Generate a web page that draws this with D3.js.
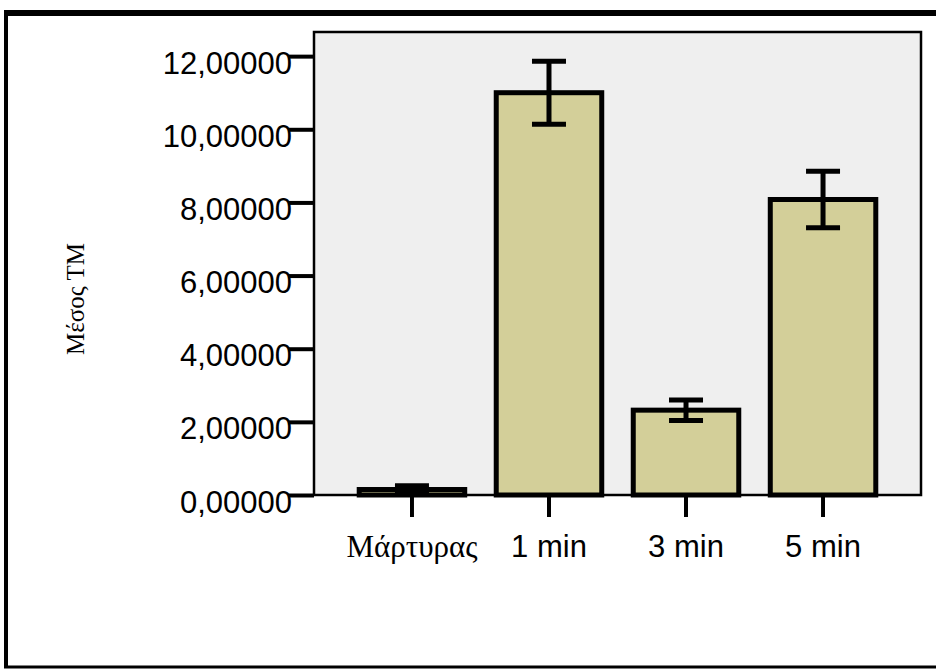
<!DOCTYPE html>
<html>
<head>
<meta charset="utf-8">
<script src="https://cdn.jsdelivr.net/npm/d3@7"></script>
<style>
  html, body { margin: 0; padding: 0; background: #ffffff; }
  svg { display: block; }
</style>
</head>
<body>
<svg id="chart" width="936" height="670"></svg>
<script>
// Mean TM per exposure time, with error bar half-widths
const categories = ["Μάρτυρας", "1 min", "3 min", "5 min"];
const means = [0.15, 11.0, 2.32, 8.08];
const errors = [0.10, 0.86, 0.28, 0.77];
const yTicks = [0, 2, 4, 6, 8, 10, 12];
const yTickLabels = ["0,00000", "2,00000", "4,00000", "6,00000", "8,00000", "10,00000", "12,00000"];
const yTitle = "Μέσος ΤΜ";

const svg = d3.select("#chart");

// Outer frame
const frame = svg.append("g").attr("fill", "none").attr("stroke", "#000");
frame.append("line").attr("x1", 4).attr("x2", 936).attr("y1", 13).attr("y2", 13).attr("stroke-width", 6);
frame.append("line").attr("x1", 6).attr("x2", 6).attr("y1", 10).attr("y2", 668).attr("stroke-width", 4);
frame.append("line").attr("x1", 4).attr("x2", 936).attr("y1", 667).attr("y2", 667).attr("stroke-width", 3);

const plot = { left: 314, right: 921, top: 32, bottom: 495 };

const x = d3.scaleBand()
  .domain(categories)
  .range([plot.left, plot.right])
  .paddingInner(0.23)
  .paddingOuter(0.33);

const y = d3.scaleLinear()
  .domain([0, 12.66])
  .range([plot.bottom, plot.top]);

// Plot background
svg.append("rect")
  .attr("x", plot.left).attr("y", plot.top)
  .attr("width", plot.right - plot.left).attr("height", plot.bottom - plot.top)
  .attr("fill", "#efefef")
  .attr("stroke", "#000").attr("stroke-width", 2.5);

// Bars
svg.append("g").selectAll("rect")
  .data(categories)
  .join("rect")
  .attr("x", d => x(d))
  .attr("y", (d, i) => y(means[i]))
  .attr("width", x.bandwidth())
  .attr("height", (d, i) => y(0) - y(means[i]))
  .attr("fill", "#d3cf99")
  .attr("stroke", "#000")
  .attr("stroke-width", 5);

// Error bars
const capW = 34;
const eb = svg.append("g").attr("stroke", "#000").attr("stroke-width", 5);
categories.forEach((c, i) => {
  const cx = x(c) + x.bandwidth() / 2;
  const lo = y(means[i] - errors[i]);
  const hi = y(means[i] + errors[i]);
  eb.append("line").attr("x1", cx).attr("x2", cx).attr("y1", lo).attr("y2", hi);
  eb.append("line").attr("x1", cx - capW / 2).attr("x2", cx + capW / 2).attr("y1", hi).attr("y2", hi);
  eb.append("line").attr("x1", cx - capW / 2).attr("x2", cx + capW / 2).attr("y1", lo).attr("y2", lo);
});

// Y axis
const yAxis = d3.axisLeft(y)
  .tickValues(yTicks)
  .tickFormat((d, i) => yTickLabels[i])
  .tickSize(26)
  .tickPadding(-4);
const gy = svg.append("g")
  .attr("transform", `translate(${plot.left},0)`)
  .call(yAxis);
gy.select(".domain").remove();
gy.selectAll(".tick line").attr("stroke", "#000").attr("stroke-width", 4);
gy.selectAll(".tick text")
  .attr("fill", "#000")
  .attr("font-family", "'Liberation Sans', Arial, sans-serif")
  .attr("font-size", 31)
  .attr("dy", "0.55em");

// X axis
const xAxis = d3.axisBottom(x).tickSize(22).tickPadding(18);
const gx = svg.append("g")
  .attr("transform", `translate(0,${plot.bottom})`)
  .call(xAxis);
gx.select(".domain").remove();
gx.selectAll(".tick line").attr("stroke", "#000").attr("stroke-width", 4);
gx.selectAll(".tick text")
  .attr("fill", "#000")
  .attr("font-family", (d, i) => i === 0 ? "'Liberation Serif', 'Times New Roman', serif" : "'Liberation Sans', Arial, sans-serif")
  .attr("font-size", 31)
  .attr("dy", "0.71em");

// Y axis title
svg.append("text")
  .attr("transform", "translate(84,299) rotate(-90)")
  .attr("text-anchor", "middle")
  .attr("font-family", "'Liberation Serif', 'Times New Roman', serif")
  .attr("font-size", 25)
  .attr("fill", "#000")
  .text(yTitle);
</script>
</body>
</html>
